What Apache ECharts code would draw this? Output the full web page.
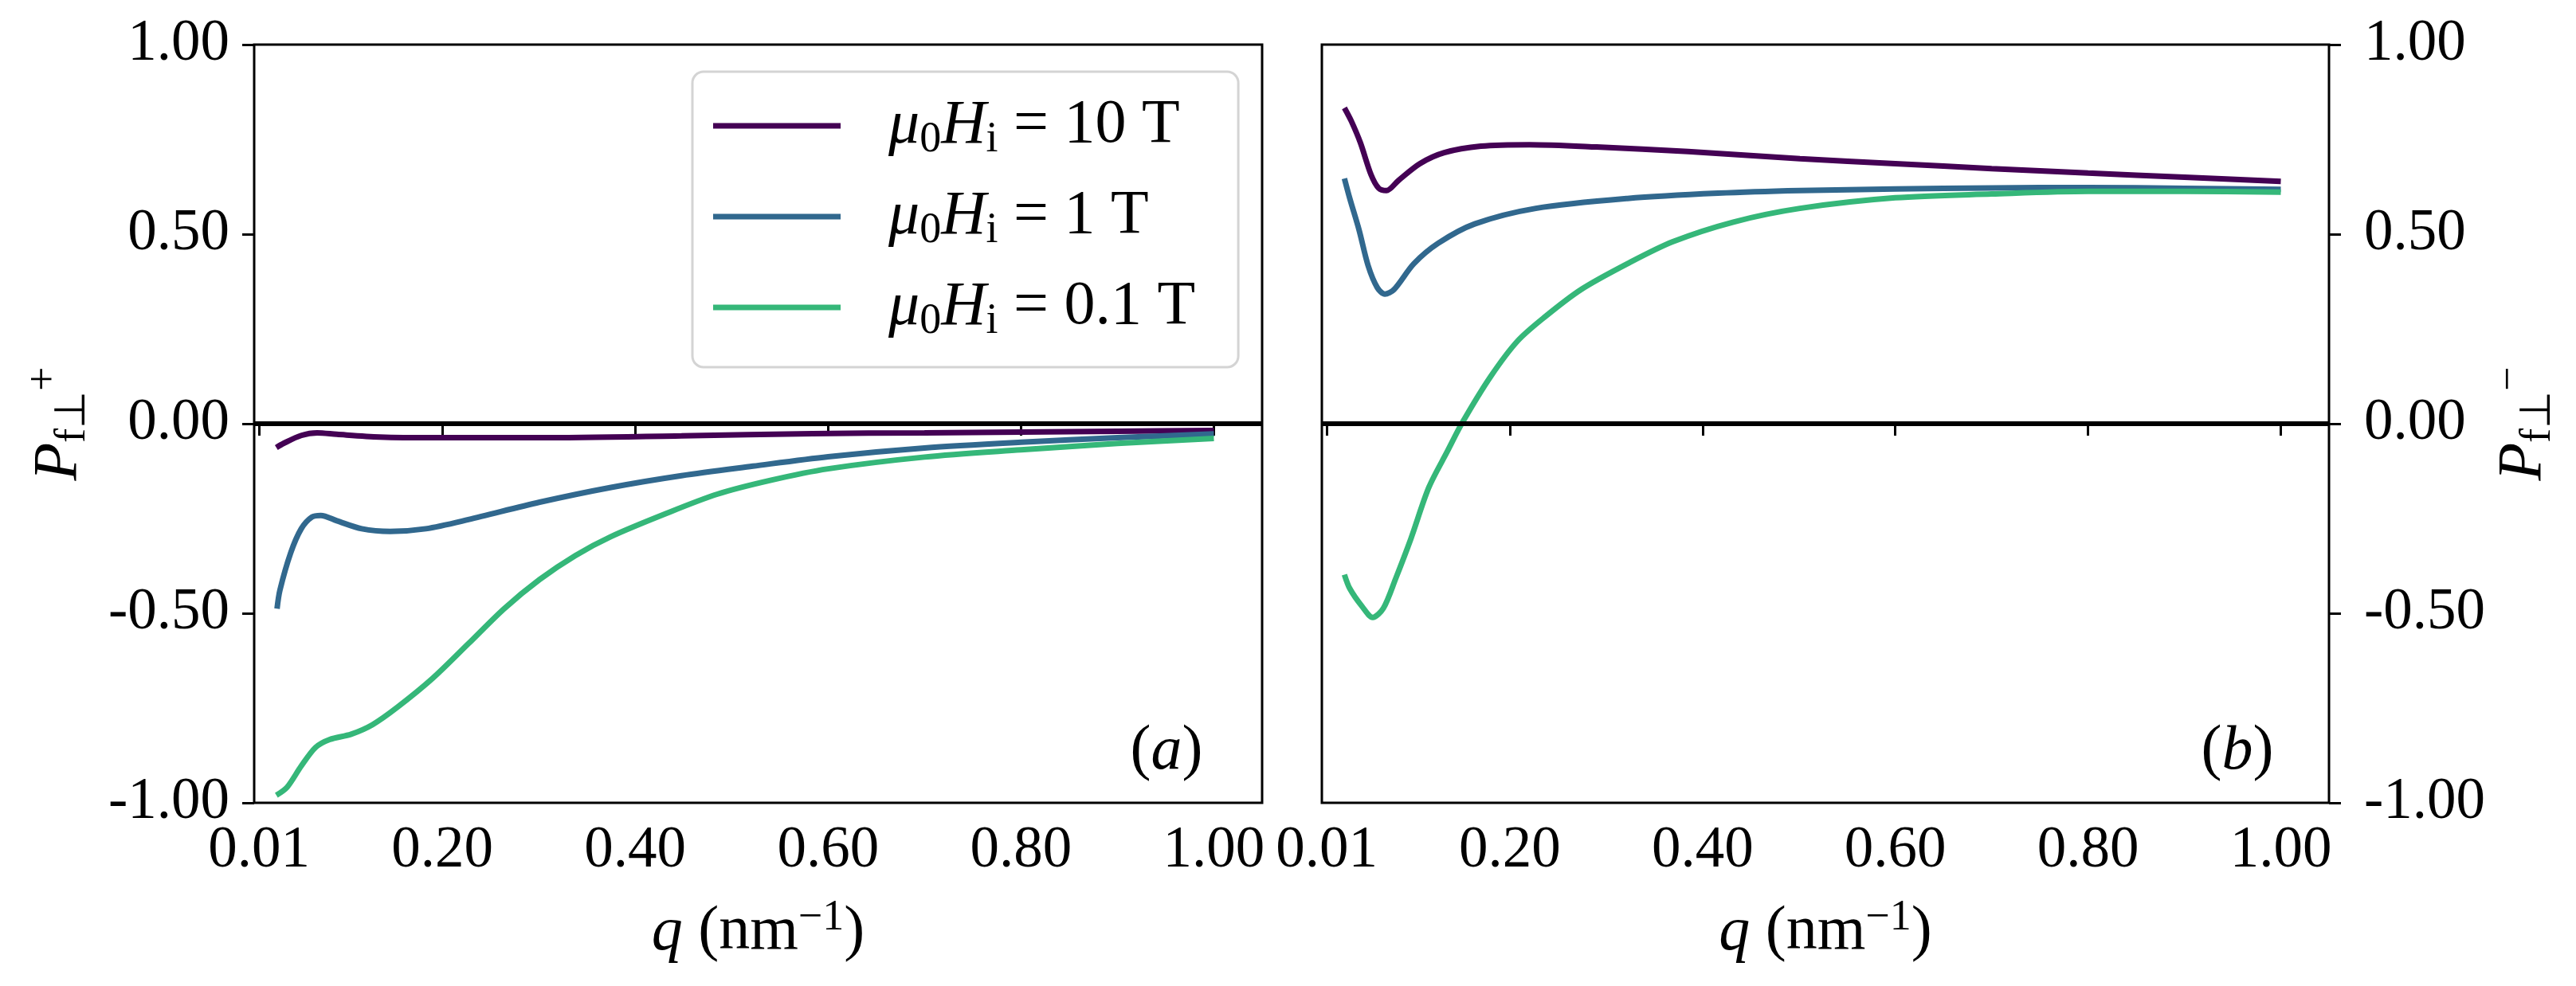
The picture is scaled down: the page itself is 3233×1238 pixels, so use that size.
<!DOCTYPE html>
<html>
<head>
<meta charset="utf-8">
<title>P_f perp vs q</title>
<script src="https://cdn.jsdelivr.net/npm/echarts@6/dist/echarts.min.js"></script>
<style>
  html, body { margin: 0; padding: 0; background: #fff; }
  #chart { width: 3233px; height: 1238px; }
</style>
</head>
<body>
<div id="chart"></div>
<script>
// field values (legend names)
const FIELDS = ['10 T', '1 T', '0.1 T'];
const COLORS = ['#440154', '#31688e', '#35b779'];

// tick values
const X_TICKS = [0.01, 0.2, 0.4, 0.6, 0.8, 1.0];

// panel (a): P_f_perp^+
const Q_A_10T = [0.028, 0.0354, 0.0538, 0.0704, 0.0907, 0.135, 0.19, 0.3, 0.448, 0.584, 0.7, 0.8, 0.9, 1.0];
const P_A_10T = [-0.063, -0.052, -0.031, -0.024, -0.028, -0.035, -0.037, -0.037, -0.032, -0.026, -0.024, -0.022, -0.020, -0.018];

const Q_A_1T = [0.0287, 0.0317, 0.0428, 0.0538, 0.0649, 0.0741, 0.0907, 0.1165, 0.146, 0.183, 0.227, 0.301, 0.375, 0.448, 0.522, 0.6, 0.7, 0.8, 0.9, 1.0];
const P_A_1T = [-0.488, -0.439, -0.341, -0.277, -0.246, -0.242, -0.256, -0.277, -0.284, -0.277, -0.253, -0.207, -0.168, -0.137, -0.112, -0.087, -0.064, -0.049, -0.037, -0.027];

const Q_A_01T = [0.028, 0.0391, 0.0538, 0.0686, 0.0833, 0.1055, 0.1276, 0.1534, 0.1903, 0.2272, 0.2641, 0.3009, 0.3378, 0.3747, 0.43, 0.485, 0.541, 0.6, 0.7, 0.8, 0.9, 1.0];
const P_A_01T = [-0.980, -0.959, -0.903, -0.854, -0.833, -0.819, -0.794, -0.748, -0.671, -0.580, -0.488, -0.411, -0.348, -0.298, -0.239, -0.186, -0.149, -0.119, -0.088, -0.069, -0.052, -0.039];

// panel (b): P_f_perp^-
const Q_B_10T = [0.0284, 0.0356, 0.045, 0.056, 0.064, 0.072, 0.0846, 0.1067, 0.132, 0.17, 0.2205, 0.29, 0.385, 0.501, 0.6, 0.7, 0.8, 0.9, 1.0];
const P_B_10T = [0.833, 0.798, 0.741, 0.657, 0.621, 0.615, 0.642, 0.686, 0.715, 0.732, 0.736, 0.730, 0.718, 0.699, 0.686, 0.673, 0.661, 0.650, 0.639];

const Q_B_1T = [0.0284, 0.034, 0.0436, 0.053, 0.0625, 0.0704, 0.0799, 0.1004, 0.1257, 0.1636, 0.227, 0.322, 0.416, 0.501, 0.6, 0.7, 0.8, 0.9, 1.0];
const P_B_1T = [0.647, 0.594, 0.511, 0.417, 0.359, 0.342, 0.354, 0.422, 0.476, 0.527, 0.568, 0.594, 0.608, 0.615, 0.619, 0.622, 0.623, 0.621, 0.618];

const Q_B_01T = [0.0284, 0.034, 0.0467, 0.0578, 0.0688, 0.0815, 0.0973, 0.116, 0.135, 0.151, 0.18, 0.208, 0.236, 0.274, 0.322, 0.369, 0.432, 0.501, 0.6, 0.7, 0.8, 0.9, 1.0];
const P_B_01T = [-0.398, -0.435, -0.482, -0.511, -0.487, -0.409, -0.304, -0.168, -0.074, 0.004, 0.124, 0.218, 0.281, 0.354, 0.422, 0.480, 0.532, 0.568, 0.596, 0.606, 0.613, 0.613, 0.611];

const FONT = '"Liberation Serif", "Times New Roman", serif';
const TICK_SIZE = 73;
const LABEL_SIZE = 78;

// layout
const GRID_TOP = 56;
const GRID_H = 952;
const GRID_A = { left: 319, width: 1265 };
const GRID_B = { left: 1659, width: 1264 };

function zip(qs, ps) {
  return qs.map((q, i) => [q, ps[i]]);
}

const MATH_RICH = {
  i: { fontFamily: FONT, fontStyle: 'italic', fontSize: LABEL_SIZE, lineHeight: 90, color: '#000' },
  n: { fontFamily: FONT, fontSize: LABEL_SIZE, lineHeight: 90, color: '#000' },
  sb: { fontFamily: FONT, fontSize: 54, lineHeight: 46, verticalAlign: 'bottom', color: '#000' },
  sp: { fontFamily: FONT, fontSize: 54, lineHeight: 46, verticalAlign: 'top', color: '#000' }
};

function lineSeries(name, color, data, idx, withZero) {
  const s = {
    name,
    type: 'line',
    xAxisIndex: idx,
    yAxisIndex: idx,
    data,
    smooth: 0.3,
    showSymbol: false,
    symbol: 'none',
    lineStyle: { color, width: 7 },
    itemStyle: { color },
    z: 3
  };
  if (withZero) {
    // horizontal reference line at P = 0
    s.markLine = {
      silent: true,
      symbol: ['none', 'none'],
      label: { show: false },
      lineStyle: { color: '#000', width: 6, type: 'solid' },
      data: [{ yAxis: 0 }]
    };
  }
  return s;
}

function xAxis(idx) {
  return {
    type: 'value',
    gridIndex: idx,
    min: 0.005,
    max: 1.05,
    name: '{i|q}{n| (nm}{sp|\u22121}{n|)}',
    nameLocation: 'middle',
    nameGap: 118,
    nameTextStyle: { rich: MATH_RICH },
    axisLine: { show: false },
    splitLine: { show: false },
    axisTick: { show: true, inside: false, length: 15, lineStyle: { color: '#000', width: 3 }, customValues: X_TICKS },
    axisLabel: {
      show: true,
      margin: 24,
      fontFamily: FONT,
      fontSize: TICK_SIZE,
      color: '#000',
      customValues: X_TICKS,
      formatter: v => v.toFixed(2)
    }
  };
}

function yAxis(idx, position, sign, nameGap, margin) {
  return {
    type: 'value',
    gridIndex: idx,
    position,
    min: -1,
    max: 1,
    interval: 0.5,
    name: '{i|P}{sb|f\u22a5}{sp|' + sign + '}',
    nameLocation: 'middle',
    nameRotate: 90,
    nameGap,
    nameTextStyle: { rich: MATH_RICH },
    axisLine: { show: false },
    splitLine: { show: false },
    axisTick: { show: true, inside: false, length: 15, lineStyle: { color: '#000', width: 3 } },
    axisLabel: {
      show: true,
      margin,
      fontFamily: FONT,
      fontSize: TICK_SIZE,
      color: '#000',
      formatter: v => v.toFixed(2)
    }
  };
}

const chart = echarts.init(document.getElementById('chart'), null, { renderer: 'canvas' });

const option = {
  animation: false,
  backgroundColor: '#fff',
  grid: [
    { left: GRID_A.left, top: GRID_TOP, width: GRID_A.width, height: GRID_H, show: true, borderColor: '#000', borderWidth: 3, backgroundColor: 'transparent' },
    { left: GRID_B.left, top: GRID_TOP, width: GRID_B.width, height: GRID_H, show: true, borderColor: '#000', borderWidth: 3, backgroundColor: 'transparent' }
  ],
  xAxis: [xAxis(0), xAxis(1)],
  yAxis: [yAxis(0, 'left', '+', 200, 31), yAxis(1, 'right', '\u2212', 195, 44)],
  legend: {
    data: FIELDS,
    orient: 'vertical',
    left: 869,
    top: 90,
    padding: [29, 54, 30, 26],
    itemWidth: 160,
    itemHeight: 7,
    itemGap: 30,
    icon: 'rect',
    backgroundColor: 'rgba(255,255,255,0.8)',
    borderColor: '#d4d4d4',
    borderWidth: 3,
    borderRadius: 14,
    formatter: name => '{i|\u03bc}{sb|0}{i|H}{sb|i}{n| = ' + name + '}',
    textStyle: { fontFamily: FONT, fontSize: LABEL_SIZE, padding: [0, 0, 0, 55], rich: MATH_RICH }
  },
  graphic: [
    {
      type: 'text',
      x: GRID_A.left + GRID_A.width - 120,
      y: GRID_TOP + GRID_H - 64,
      style: {
        text: '{n|(}{i|a}{n|)}',
        rich: MATH_RICH,
        align: 'center',
        verticalAlign: 'middle'
      }
    },
    {
      type: 'text',
      x: GRID_B.left + GRID_B.width - 115,
      y: GRID_TOP + GRID_H - 64,
      style: {
        text: '{n|(}{i|b}{n|)}',
        rich: MATH_RICH,
        align: 'center',
        verticalAlign: 'middle'
      }
    }
  ],
  series: [
    lineSeries(FIELDS[0], COLORS[0], zip(Q_A_10T, P_A_10T), 0, true),
    lineSeries(FIELDS[1], COLORS[1], zip(Q_A_1T, P_A_1T), 0, false),
    lineSeries(FIELDS[2], COLORS[2], zip(Q_A_01T, P_A_01T), 0, false),
    lineSeries(FIELDS[0], COLORS[0], zip(Q_B_10T, P_B_10T), 1, true),
    lineSeries(FIELDS[1], COLORS[1], zip(Q_B_1T, P_B_1T), 1, false),
    lineSeries(FIELDS[2], COLORS[2], zip(Q_B_01T, P_B_01T), 1, false)
  ]
};

chart.setOption(option);
</script>
</body>
</html>
